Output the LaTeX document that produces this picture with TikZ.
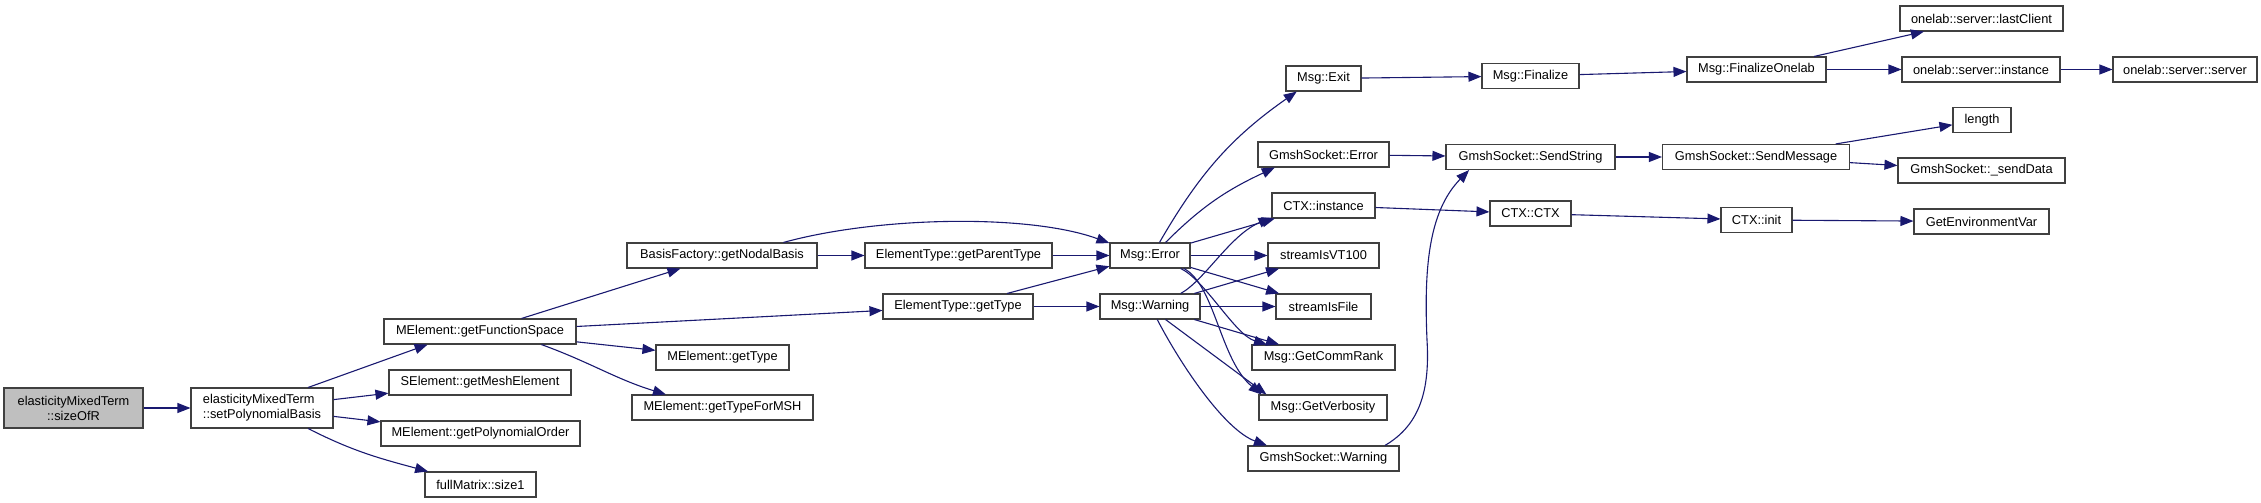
\documentclass[tikz,border=0pt]{standalone}
\usepackage{fontspec}
\setmainfont{Liberation Sans}
\usetikzlibrary{arrows.meta}
\definecolor{edgeblue}{RGB}{25,25,112}
\definecolor{rootgray}{RGB}{191,191,191}

\begin{document}
\begin{tikzpicture}[x=1pt,y=1pt,
  fn/.style={draw=black!75,line width=1.1pt,fill=white,inner xsep=4pt,inner ysep=0pt,
    minimum height=25pt,font=\fontsize{12.8}{15}\selectfont},
  root/.style={fn,fill=rootgray,minimum height=40pt,align=center},
  call/.style={draw=edgeblue,line width=1.1pt,-{Triangle[length=13pt,width=10pt]}}]
\useasboundingbox (0,0) rectangle (2261,-503);
% columns of the call graph
\node[root,minimum width=139pt] (root) at (73.5,-408) {elasticityMixedTerm\\::sizeOfR};
\node[fn,minimum width=142pt,minimum height=40pt,align=left] (spb) at (262,-408) {elasticityMixedTerm\\::setPolynomialBasis};
\node[fn,minimum width=192pt] (gfs) at (480,-331.5) {MElement::getFunctionSpace};
\node[fn,minimum width=182pt] (gme) at (480,-382.5) {SElement::getMeshElement};
\node[fn,minimum width=199pt] (gpo) at (480.5,-433.5) {MElement::getPolynomialOrder};
\node[fn,minimum width=111pt] (sz1) at (480.5,-484.5) {fullMatrix::size1};
\node[fn,minimum width=190pt] (gnb) at (722,-255.5) {BasisFactory::getNodalBasis};
\node[fn,minimum width=133pt] (megt) at (722.5,-357.5) {MElement::getType};
\node[fn,minimum width=181pt] (gtm) at (722.5,-407.5) {MElement::getTypeForMSH};
\node[fn,minimum width=187pt] (gpt) at (958.5,-255.5) {ElementType::getParentType};
\node[fn,minimum width=150pt] (etgt) at (958,-306.5) {ElementType::getType};
\node[fn,minimum width=80pt] (err) at (1150,-255.5) {Msg::Error};
\node[fn,minimum width=100pt] (wrn) at (1150,-306.5) {Msg::Warning};
\node[fn,minimum width=75pt] (ext) at (1323.5,-78.5) {Msg::Exit};
\node[fn,minimum width=131pt] (gse) at (1323.5,-154.5) {GmshSocket::Error};
\node[fn,minimum width=103pt] (ctxi) at (1323.5,-205.5) {CTX::instance};
\node[fn,minimum width=111pt] (vt) at (1323.5,-255.5) {streamIsVT100};
\node[fn,minimum width=95pt] (sif) at (1323.5,-306.5) {streamIsFile};
\node[fn,minimum width=143pt] (gcr) at (1323.5,-357.5) {Msg::GetCommRank};
\node[fn,minimum width=128pt] (gvb) at (1323,-407.5) {Msg::GetVerbosity};
\node[fn,minimum width=151pt] (gsw) at (1323.5,-458.5) {GmshSocket::Warning};
\node[fn,minimum width=97pt] (fin) at (1530.5,-76) {Msg::Finalize};
\node[fn,minimum width=169pt] (sst) at (1530.5,-157) {GmshSocket::SendString};
\node[fn,minimum width=81pt] (ctx) at (1530.5,-213.5) {CTX::CTX};
\node[fn,minimum width=139pt] (fol) at (1756.5,-69.5) {Msg::FinalizeOnelab};
\node[fn,minimum width=187pt] (smg) at (1756,-157) {GmshSocket::SendMessage};
\node[fn,minimum width=71pt] (cin) at (1756.5,-220) {CTX::init};
\node[fn,minimum width=163pt] (lcl) at (1981.5,-18.5) {onelab::server::lastClient};
\node[fn,minimum width=158pt] (osi) at (1981,-69.5) {onelab::server::instance};
\node[fn,minimum width=58pt] (len) at (1982,-120) {length};
\node[fn,minimum width=167pt] (sdt) at (1981.5,-170.5) {GmshSocket::\_sendData};
\node[fn,minimum width=135pt] (gev) at (1981.5,-221.5) {GetEnvironmentVar};
\node[fn,minimum width=144pt] (oss) at (2185,-69.5) {onelab::server::server};
% calls
\draw[call] (root) -- (spb);
\draw[call] (spb.24) -- (gfs.194);
\draw[call] (spb) -- (gme);
\draw[call] (spb) -- (gpo);
\draw[call] (spb.-24) to[out=-27,in=165] (sz1.166);
\draw[call] (gfs) -- (gnb);
\draw[call] (gfs) -- (etgt);
\draw[call] (gfs) -- (megt);
\draw[call] (gfs.-12) to[out=-20,in=163] (gtm.167);
\draw[call] (gnb) -- (gpt);
\draw[call] (gnb.12) .. controls (880,-216) and (1030,-214) .. (err.163);
\draw[call] (gpt) -- (err);
\draw[call] (etgt) -- (err);
\draw[call] (etgt) -- (wrn);
\draw[call] (err.54) to[out=60,in=215] (ext.206);
\draw[call] (err.40) to[out=45,in=205] (gse.195);
\draw[call] (err.17) -- (ctxi.195);
\draw[call] (err) -- (vt);
\draw[call] (err) -- (sif);
\draw[call] (err.-23) .. controls (1205,-280) and (1235,-335) .. (gcr.167);
\draw[call] (err.-21) .. controls (1215,-285) and (1220,-360) .. (gvb.168);
\draw[call] (wrn.23) .. controls (1205,-280) and (1230,-235) .. (ctxi.193);
\draw[call] (wrn) -- (vt);
\draw[call] (wrn) -- (sif);
\draw[call] (wrn) -- (gcr);
\draw[call] (wrn.-40) -- (gvb.167);
\draw[call] (wrn.-61) .. controls (1182,-367) and (1225,-430) .. (gsw.167);
\draw[call] (ext) -- (fin);
\draw[call] (fin) -- (fol);
\draw[call] (fol) -- (lcl);
\draw[call] (fol) -- (osi);
\draw[call] (osi) -- (oss);
\draw[call] (gse) -- (sst);
\draw[call] (gsw.12) .. controls (1420,-425) and (1430,-390) .. (1427,-340)
  .. controls (1424,-270) and (1428,-212) .. (sst.192);
\draw[call] (sst) -- (smg);
\draw[call] (smg) -- (len);
\draw[call] (smg) -- (sdt);
\draw[call] (ctxi) -- (ctx);
\draw[call] (ctx) -- (cin);
\draw[call] (cin) -- (gev);
\end{tikzpicture}
\end{document}
